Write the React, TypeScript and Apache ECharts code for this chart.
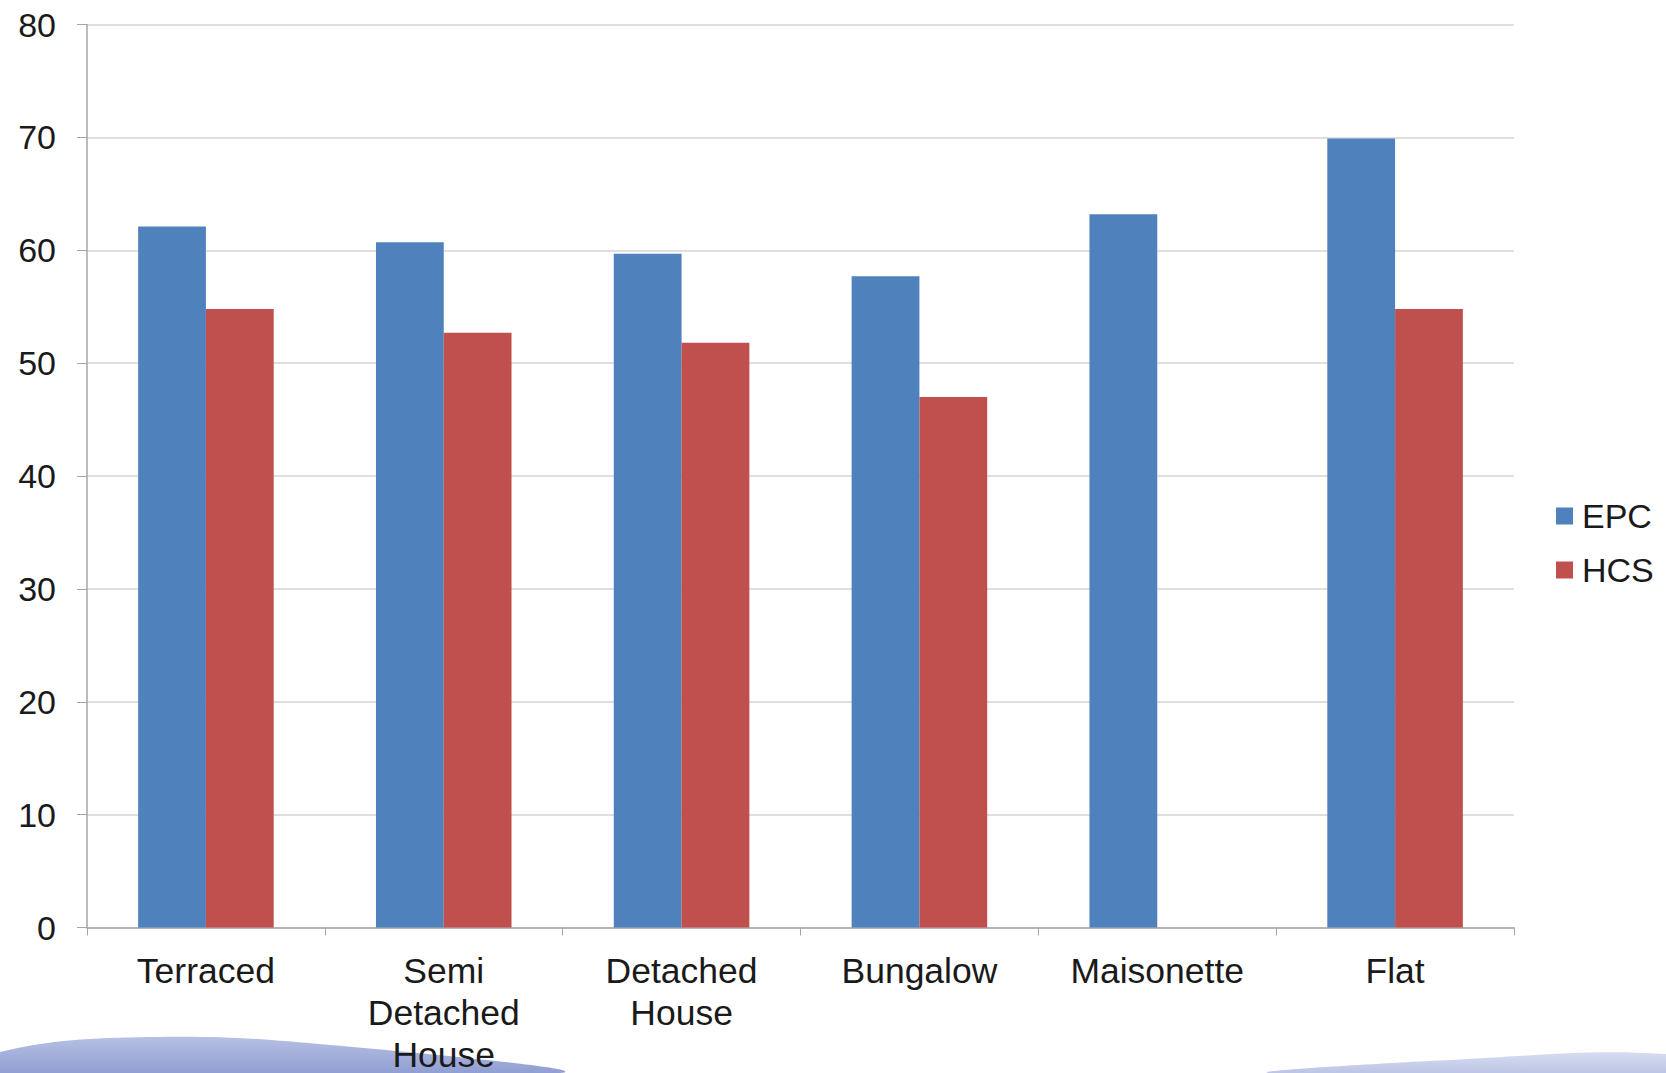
import React, { useEffect, useRef } from "react";
import * as echarts from "echarts";

const categories = ["Terraced", "Semi\nDetached\nHouse", "Detached\nHouse", "Bungalow", "Maisonette", "Flat"];
const epcValues = [62.1, 60.7, 59.7, 57.7, 63.2, 69.9];
const hcsValues: (number | null)[] = [54.8, 52.7, 51.8, 47.0, null, 54.8];
const yTicks = [0, 10, 20, 30, 40, 50, 60, 70, 80];

const FONT = "'Liberation Sans', Arial, sans-serif";

export default function App() {
  const ref = useRef<HTMLDivElement>(null);
  useEffect(() => {
    if (!ref.current) return;
    const chart = echarts.init(ref.current, null, { renderer: "svg" });
    chart.setOption({
      animation: false,
      backgroundColor: "#ffffff",
      textStyle: { fontFamily: FONT },
      grid: { left: 87, right: 152, top: 24.5, bottom: 145.5, containLabel: false, outerBoundsMode: "none" },
      legend: {
        orient: "vertical",
        left: 1551,
        top: 494,
        itemWidth: 17,
        itemHeight: 17,
        itemGap: 20,
        icon: "rect",
        textStyle: { fontSize: 34, color: "#1a1a1a", fontFamily: FONT, padding: [0, 0, 0, 4] },
        data: ["EPC", "HCS"],
      },
      xAxis: {
        type: "category",
        data: categories,
        axisLine: { show: true, lineStyle: { color: "#a6a6a6", width: 1.5 } },
        axisTick: { show: true, length: 8, lineStyle: { color: "#a6a6a6" } },
        axisLabel: {
          fontSize: 35.5,
          lineHeight: 42,
          color: "#1a1a1a",
          margin: 22,
          fontFamily: FONT,
          interval: 0,
        },
        splitLine: { show: false },
      },
      yAxis: {
        type: "value",
        min: 0,
        max: 80,
        interval: 10,
        axisLine: { show: true, lineStyle: { color: "#a6a6a6", width: 1.5 } },
        axisTick: { show: true, length: 10, inside: false, lineStyle: { color: "#a6a6a6" } },
        axisLabel: {
          fontSize: 34,
          color: "#1a1a1a",
          margin: 31,
          fontFamily: FONT,
          formatter: (v: number) => (yTicks.includes(v) ? String(v) : ""),
        },
        splitLine: { show: true, lineStyle: { color: "#d4d4d4", width: 1.5 } },
      },
      series: [
        {
          name: "EPC",
          type: "bar",
          data: epcValues,
          barGap: "0%",
          barCategoryGap: "43%",
          itemStyle: { color: "#4F81BD" },
        },
        {
          name: "HCS",
          type: "bar",
          data: hcsValues,
          barGap: "0%",
          barCategoryGap: "43%",
          itemStyle: { color: "#C0504D" },
        },
      ],
      graphic: [
        {
          type: "polygon",
          silent: true,
          z: -1,
          shape: {
            smooth: 0.4,
            points: [
              [0, 1052],
              [150, 1037],
              [330, 1045],
              [560, 1073],
              [0, 1073],
            ],
          },
          style: {
            fill: new echarts.graphic.LinearGradient(0, 0, 0, 1, [
              { offset: 0, color: "#b7c0e4" },
              { offset: 1, color: "#8a99cf" },
            ]),
          },
        },
        {
          type: "polygon",
          silent: true,
          z: -1,
          shape: {
            smooth: 0.4,
            points: [
              [1270, 1073],
              [1450, 1060],
              [1666, 1054],
              [1666, 1073],
            ],
          },
          style: {
            fill: new echarts.graphic.LinearGradient(0, 0, 0, 1, [
              { offset: 0, color: "#d7dcf0" },
              { offset: 1, color: "#b7c0e4" },
            ]),
          },
        },
      ],
    });
    return () => chart.dispose();
  }, []);
  return <div ref={ref} style={{ width: 1666, height: 1073, position: "absolute", left: 0, top: 0 }} />;
}
